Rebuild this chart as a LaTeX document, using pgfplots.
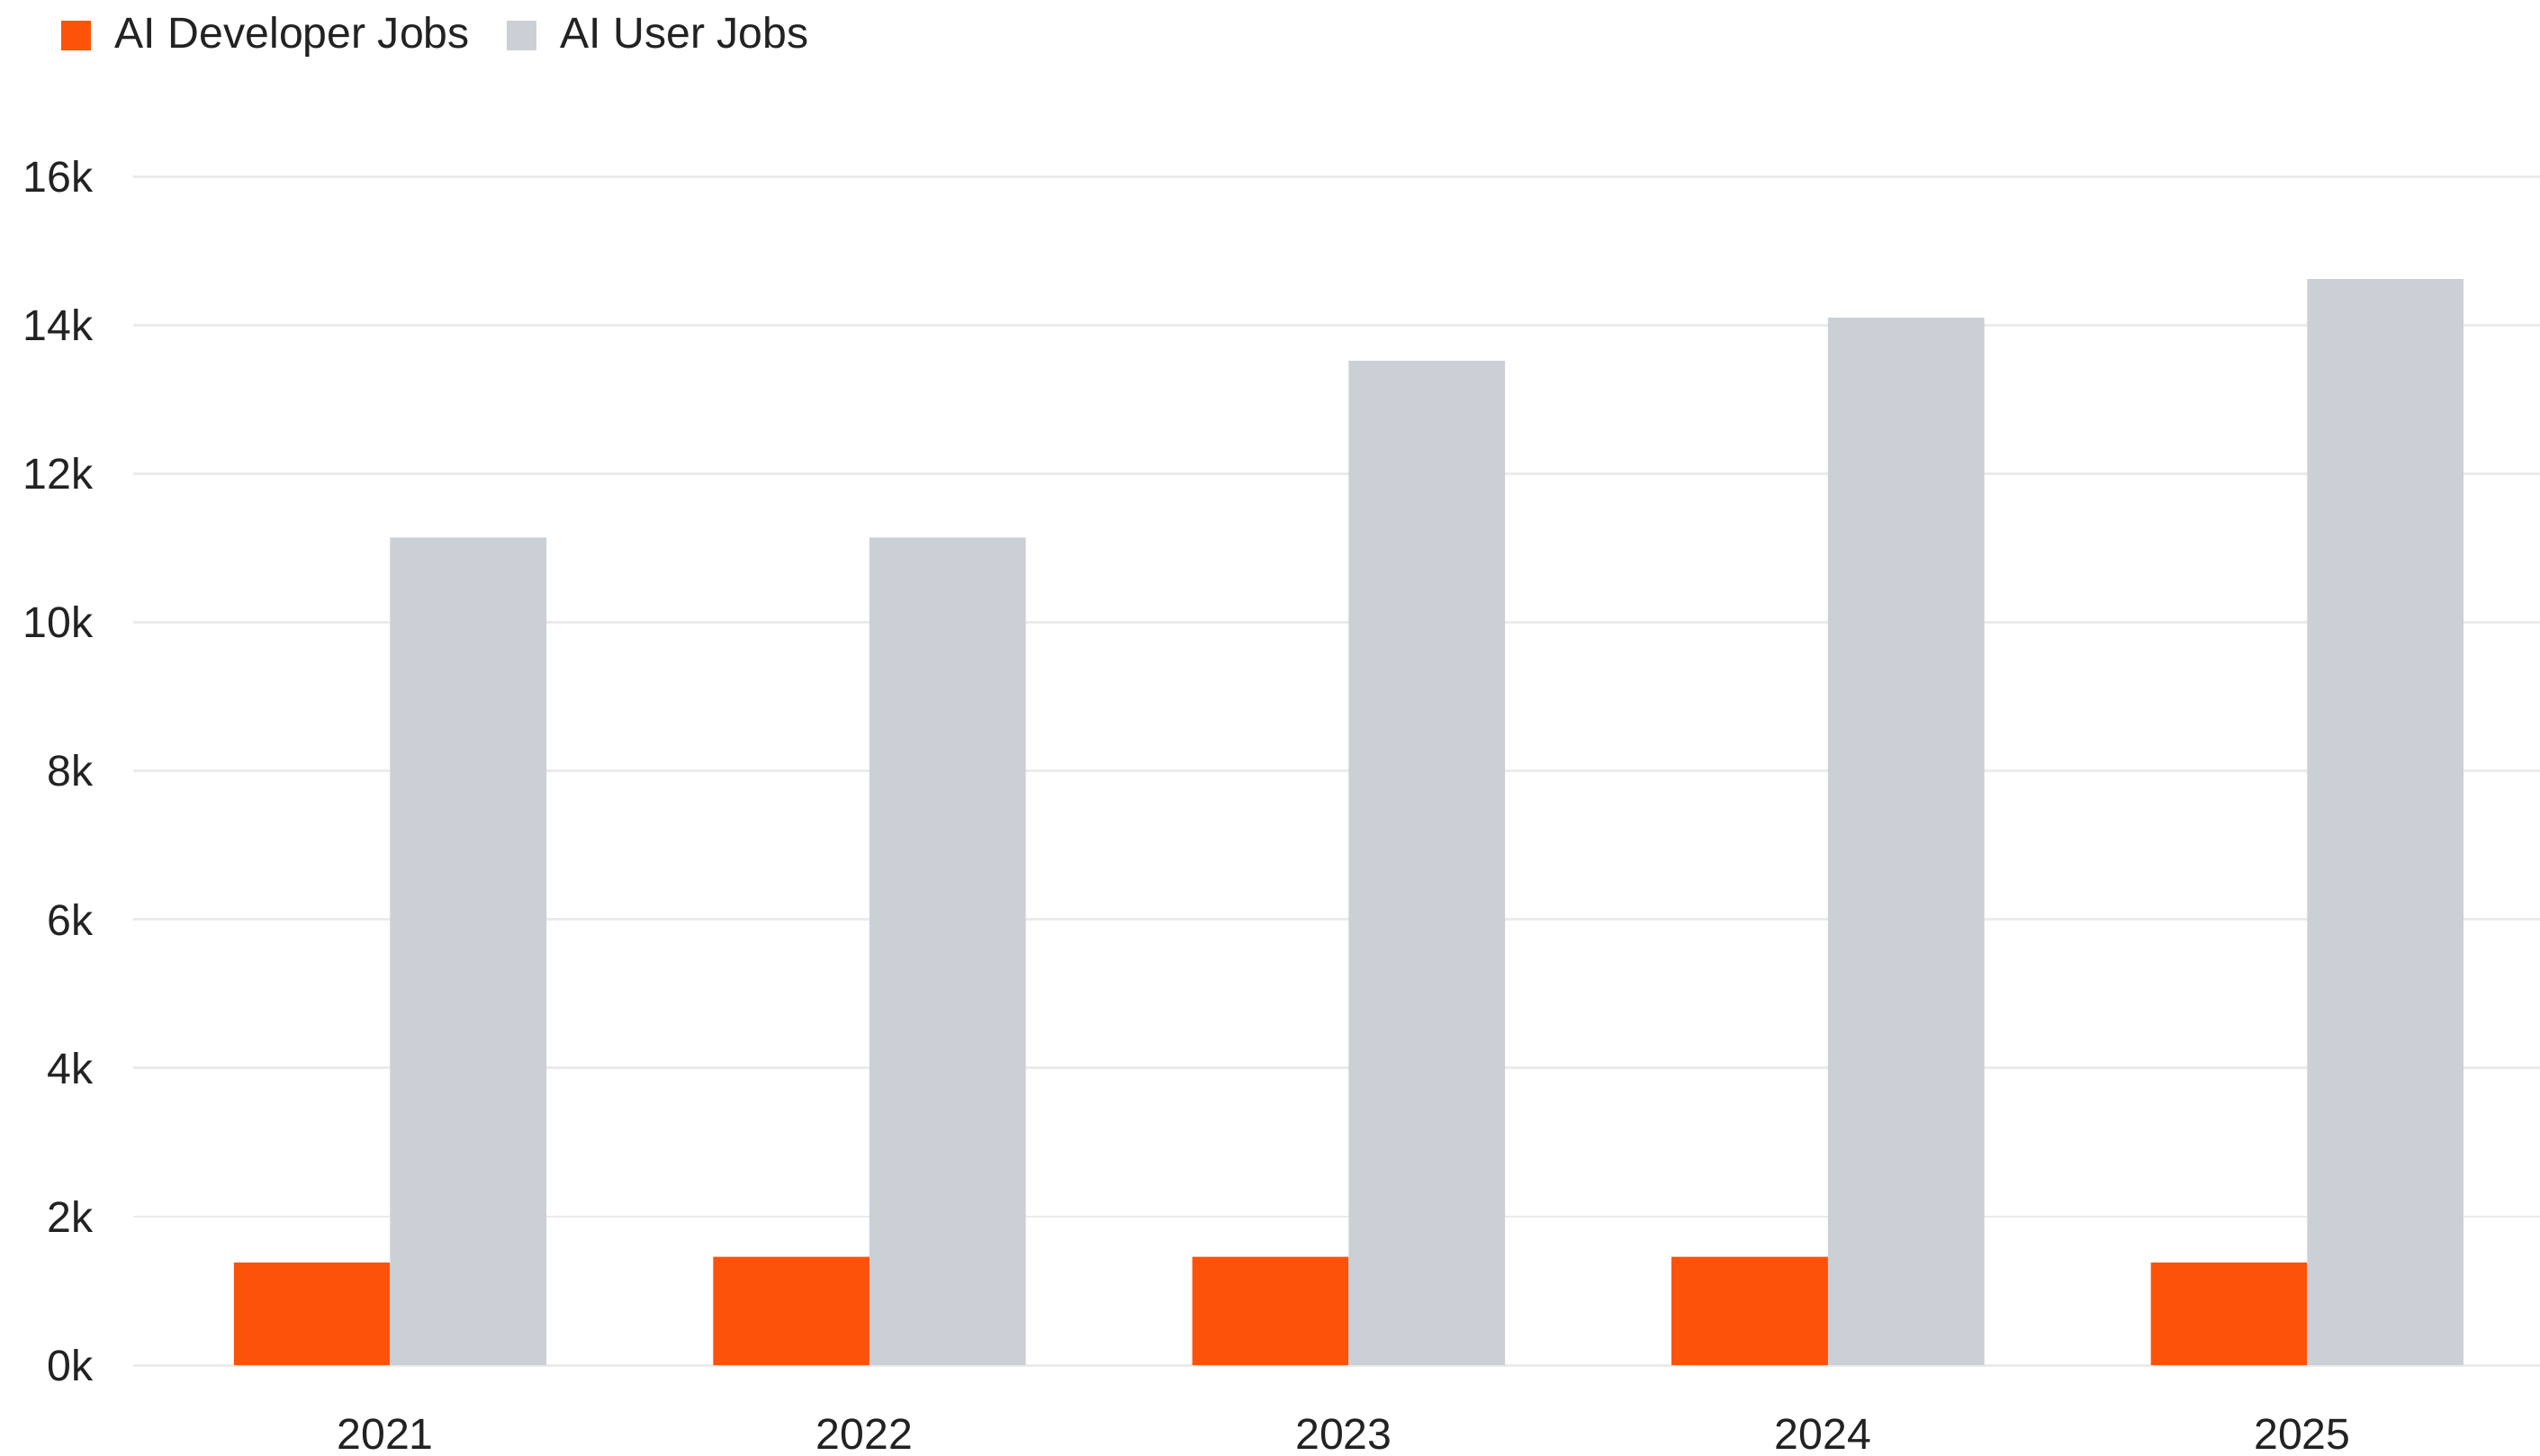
\documentclass[border=0pt]{standalone}
\usepackage{pgfplots}
\pgfplotsset{compat=1.18}
\usepackage{fontspec}
\setmainfont{Liberation Sans}
\definecolor{devorange}{HTML}{FD5209}
\definecolor{usergray}{HTML}{CBD0D7}
\definecolor{gridgray}{HTML}{EBEBEB}
\definecolor{txt}{HTML}{222222}
\begin{document}
\fontsize{13.4}{16}\selectfont
\begin{tikzpicture}
\begin{axis}[
  name=ax,
  scale only axis,
  width=743pt, height=367pt,
  ybar=0pt, bar width=48.25pt,
  xmin=-0.537, xmax=4.486,
  ymin=0, ymax=16000,
  xtick={0,1,2,3,4},
  xticklabels={2021,2022,2023,2024,2025},
  ytick={0,2000,4000,6000,8000,10000,12000,14000,16000},
  yticklabels={0k,2k,4k,6k,8k,10k,12k,14k,16k},
  scaled y ticks=false,
  /pgf/number format/assume math mode=true,
  axis line style={draw=none},
  major tick length=0pt,
  ymajorgrids,
  grid style={gridgray, line width=0.8pt},
  tick label style={font=\fontsize{13.4}{16}\selectfont, text=txt},
  yticklabel style={anchor=east, inner sep=0pt, xshift=-12pt},
  xticklabel style={anchor=north, inner sep=0pt, yshift=-16.5pt, xshift=-1.5pt},
  legend columns=2,
  legend style={draw=none, fill=none, at={(0,1)}, anchor=west, xshift=-22pt, yshift=43.5pt,
    inner sep=0pt, outer sep=0pt,
    font=\fontsize{13.4}{16}\selectfont, text=txt,
    nodes={inner sep=0pt, anchor=west},
    /tikz/every odd column/.append style={column sep=7.5pt},
    /tikz/every even column/.append style={column sep=11.5pt}},
  legend image code/.code={\fill[#1] (0pt,-4.5pt) rectangle (9pt,4.5pt);},
]
\addplot[fill=devorange, draw=none] coordinates {(0,1380) (1,1460) (2,1460) (3,1460) (4,1380)};
\addplot[fill=usergray, draw=none] coordinates {(0,11140) (1,11140) (2,13520) (3,14100) (4,14620)};
\legend{AI Developer Jobs, AI User Jobs}
\end{axis}
\pgfresetboundingbox
\path[use as bounding box] ([shift={(-41pt,-28pt)}]ax.south west) rectangle ([shift={(0pt,54.5pt)}]ax.north east);
\end{tikzpicture}
\end{document}
